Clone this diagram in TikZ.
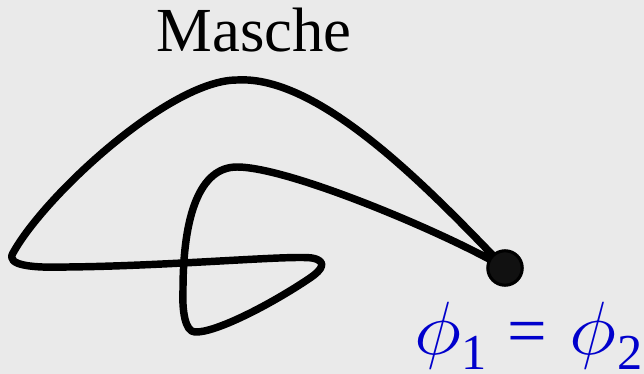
\documentclass[tikz,border=0pt]{standalone}
\usepackage{fontspec}
\usepackage{graphicx}
\setmainfont{Liberation Serif}
\definecolor{bg}{HTML}{EAEAEA}
\definecolor{formblue}{HTML}{0000CC}
\definecolor{dotfill}{HTML}{111111}
\tikzset{
  loopline/.style={line width=5.3pt, line join=round, line cap=round},
  junction/.style={circle, draw=black, line width=2.2pt, fill=dotfill, minimum size=24.5pt, inner sep=0pt},
  title/.style={font=\fontsize{44.6}{50}\selectfont, inner sep=0pt},
  formula/.style={font=\fontsize{50}{56}\selectfont, text=formblue, inner sep=0pt}
}
\newcommand{\phisym}{\resizebox*{33.4pt}{47.7pt}{$\phi$}}
\newcommand{\subsc}[2]{\makebox[#1][c]{\raisebox{-11.2pt}{\fontsize{35.8}{40}\selectfont #2}}}
\begin{document}
\begin{tikzpicture}[x=0.025cm, y=-0.025cm]
\fill[bg] (0,0) rectangle (644,374);
\useasboundingbox (0,0) rectangle (644,374);
\draw[loopline] (505,268)
  .. controls (430,190) and (320,75) .. (237,80)
  .. controls (170,80) and (45,195) .. (13,253)
  .. controls (5,266) and (35,268) .. (67,267)
  .. controls (170,266) and (290,255) .. (312,258)
  .. controls (328,261) and (322,270) .. (310,278)
  .. controls (270,305) and (215,333) .. (195,332)
  .. controls (185,332) and (182,310) .. (183,290)
  .. controls (183,215) and (200,167) .. (237,167)
  .. controls (290,167) and (450,235) .. (505,268) -- cycle;
\node[junction] (dot) at (505,268) {};
\node[title, anchor=base] (masche) at (254,52) {Masche};
\node[formula, anchor=base west] (phi) at (413,354) {\makebox[34.9pt][c]{\phisym}\subsc{17pt}{1}\makebox[58.3pt][c]{=}\makebox[34.9pt][c]{\phisym}\subsc{18.5pt}{2}};
\end{tikzpicture}
\end{document}
